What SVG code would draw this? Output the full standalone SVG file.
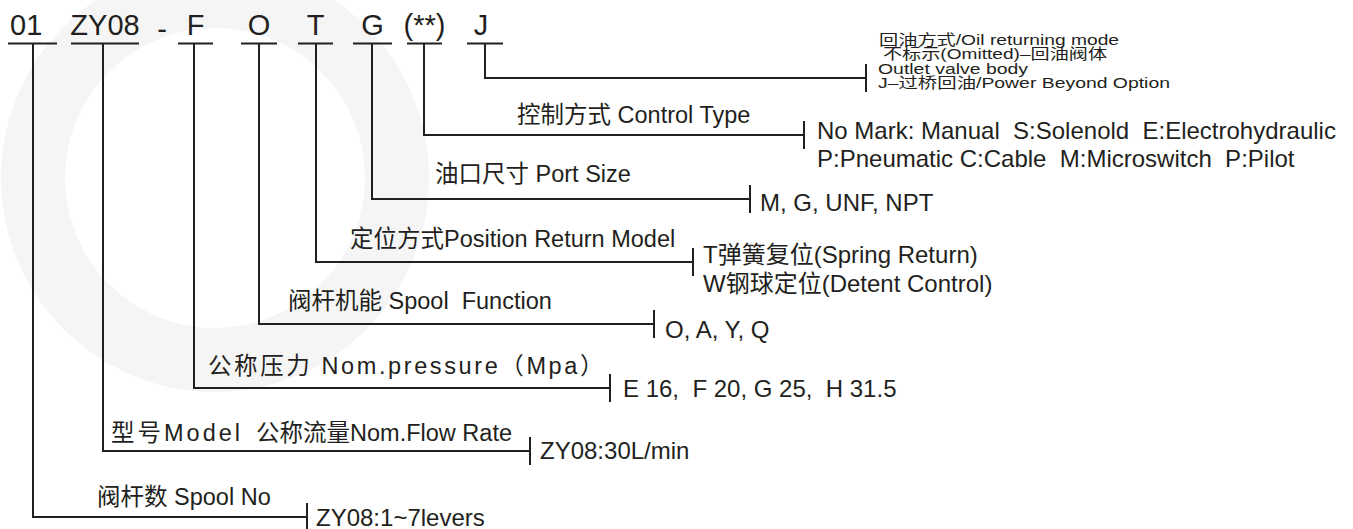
<svg xmlns="http://www.w3.org/2000/svg" width="1353" height="529" viewBox="0 0 1353 529">
<style>
text{font-family:"Liberation Sans","Noto Sans CJK SC",sans-serif;fill:#231f20;white-space:pre}
.code{font-size:29px}
.lbl{font-size:23.5px}
.val{font-size:24px}
.sm{font-size:15px}
.ln{stroke:#231f20;stroke-width:2;fill:none}
</style>
<rect width="1353" height="529" fill="#ffffff"/>
<g id="watermark">
<circle cx="215" cy="178" r="182" fill="none" stroke="#f5f5f5" stroke-width="64"/>
</g>
<g id="code">
<text class="code" x="10" y="35">01</text>
<text class="code" x="105" y="35" text-anchor="middle">ZY08</text>
<text class="code" x="162" y="39" text-anchor="middle">-</text>
<text class="code" x="195.5" y="35" text-anchor="middle">F</text>
<text class="code" x="259" y="35" text-anchor="middle">O</text>
<text class="code" x="315.5" y="35" text-anchor="middle">T</text>
<text class="code" x="372.5" y="35" text-anchor="middle">G</text>
<text class="code" x="424.5" y="35" text-anchor="middle">(**)</text>
<text class="code" x="481" y="35" text-anchor="middle">J</text>
</g>
<g id="connectors">
<path class="ln" d="M8 43.5H57M71 43.5H139M178 43.5H213M241 43.5H277M298 43.5H333M353 43.5H392M407 43.5H442M467 43.5H503"/>
<path class="ln" d="M485 43.5V78H866M866 64V92"/>
<path class="ln" d="M424 43.5V135H804M804 121V149"/>
<path class="ln" d="M372 43.5V199H750M750 185V213"/>
<path class="ln" d="M316 43.5V262H693M693 248V276"/>
<path class="ln" d="M259 43.5V324H654M654 310V338"/>
<path class="ln" d="M194 43.5V388H610M610 374V402"/>
<path class="ln" d="M103 43.5V451H530M530 437V465"/>
<path class="ln" d="M33 43.5V517H307M307 503V529"/>
</g>
<g id="node-return">
<text class="sm" x="879" y="44.5" textLength="240" lengthAdjust="spacingAndGlyphs">回油方式/Oil returning mode</text>
<text class="sm" x="883" y="59" textLength="224" lengthAdjust="spacingAndGlyphs">不标示(Omitted)–回油阀体</text>
<text class="sm" x="878" y="73.5" textLength="150" lengthAdjust="spacingAndGlyphs">Outlet valve body</text>
<text class="sm" x="878" y="88" textLength="292" lengthAdjust="spacingAndGlyphs">J–过桥回油/Power Beyond Option</text>
</g>
<g id="node-control">
<text class="lbl" x="517" y="123">控制方式 Control Type</text>
<text class="val" x="817" y="139">No Mark: Manual  S:Solenold  E:Electrohydraulic</text>
<text class="val" x="817" y="167">P:Pneumatic C:Cable  M:Microswitch  P:Pilot</text>
</g>
<g id="node-port">
<text class="lbl" x="435" y="182">油口尺寸 Port Size</text>
<text class="val" x="760" y="211">M, G, UNF, NPT</text>
</g>
<g id="node-position">
<text class="lbl" x="350" y="247">定位方式Position Return Model</text>
<text class="val" x="703" y="263">T弹簧复位(Spring Return)</text>
<text class="val" x="703" y="292">W钢球定位(Detent Control)</text>
</g>
<g id="node-spool-function">
<text class="lbl" x="288" y="309">阀杆机能 Spool  Function</text>
<text class="val" x="665" y="338">O, A, Y, Q</text>
</g>
<g id="node-pressure">
<text class="lbl" x="208" y="374" letter-spacing="2.6">公称压力 Nom.pressure（Mpa）</text>
<text class="val" x="623" y="397">E 16,  F 20, G 25,  H 31.5</text>
</g>
<g id="node-model">
<text class="lbl" x="111" y="441"><tspan letter-spacing="3">型号Model</tspan>  公称流量Nom.Flow Rate</text>
<text class="val" x="540" y="459">ZY08:30L/min</text>
</g>
<g id="node-spool-no">
<text class="lbl" x="97" y="505">阀杆数 Spool No</text>
<text class="val" x="316" y="526">ZY08:1~7levers</text>
</g>
</svg>
